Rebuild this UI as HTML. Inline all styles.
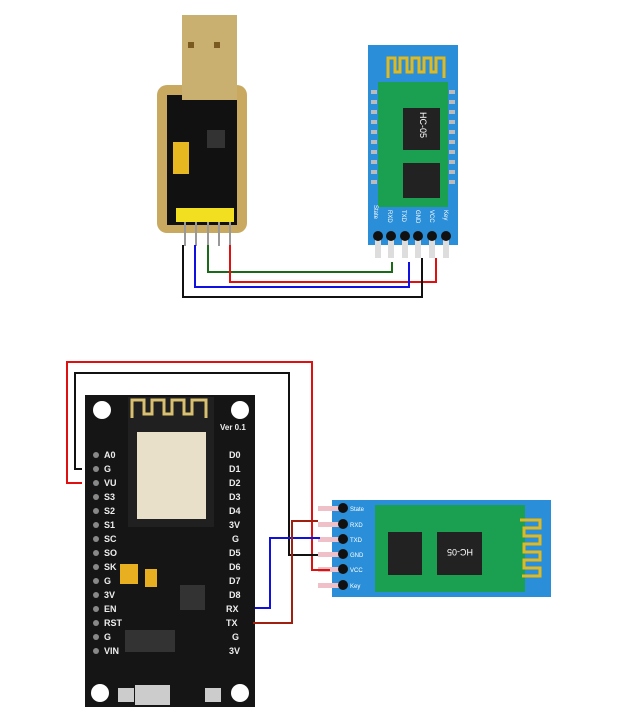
<!DOCTYPE html><html><head><style>body{margin:0;background:#fff}svg{display:block}</style></head><body>
<svg width="620" height="720" xmlns="http://www.w3.org/2000/svg" font-family="Liberation Sans, sans-serif">
<rect width="620" height="720" fill="#fff"/>
<!-- USB adapter -->
<rect x="157" y="85" width="90" height="148" rx="10" fill="#c9a860"/>
<rect x="167" y="95" width="70" height="130" fill="#111"/>
<rect x="182" y="15" width="55" height="85" fill="#c9b070"/>
<rect x="188" y="42" width="6" height="6" fill="#7a5a20"/><rect x="214" y="42" width="6" height="6" fill="#7a5a20"/>
<rect x="173" y="142" width="16" height="32" fill="#e8b820"/>
<rect x="207" y="130" width="18" height="18" fill="#333"/>
<rect x="176" y="208" width="58" height="14" fill="#f2e020"/>
<g stroke="#999" stroke-width="2"><line x1="185" y1="222" x2="185" y2="246"/><line x1="196" y1="222" x2="196" y2="246"/><line x1="208" y1="222" x2="208" y2="246"/><line x1="219" y1="222" x2="219" y2="246"/><line x1="230" y1="222" x2="230" y2="246"/></g>
<!-- HC05 top -->
<rect x="368" y="45" width="90" height="200" fill="#2a8fd8"/>
<rect x="378" y="82" width="70" height="125" fill="#1aa050"/>
<path d="M388 78 V58 H395 V72 H400 V58 H407 V72 H412 V58 H419 V72 H424 V58 H431 V72 H436 V58 H444 V78" fill="none" stroke="#e0b820" stroke-width="3"/>
<rect x="403" y="108" width="37" height="42" fill="#222"/><rect x="403" y="163" width="37" height="35" fill="#222"/>
<text x="0" y="0" font-size="9" fill="#fff" transform="translate(420,112) rotate(90)">HC-05</text>
<g fill="#bbb"><rect x="371" y="90" width="6" height="4"/><rect x="371" y="100" width="6" height="4"/><rect x="371" y="110" width="6" height="4"/><rect x="371" y="120" width="6" height="4"/><rect x="371" y="130" width="6" height="4"/><rect x="371" y="140" width="6" height="4"/><rect x="371" y="150" width="6" height="4"/><rect x="371" y="160" width="6" height="4"/><rect x="371" y="170" width="6" height="4"/><rect x="371" y="180" width="6" height="4"/><rect x="449" y="90" width="6" height="4"/><rect x="449" y="100" width="6" height="4"/><rect x="449" y="110" width="6" height="4"/><rect x="449" y="120" width="6" height="4"/><rect x="449" y="130" width="6" height="4"/><rect x="449" y="140" width="6" height="4"/><rect x="449" y="150" width="6" height="4"/><rect x="449" y="160" width="6" height="4"/><rect x="449" y="170" width="6" height="4"/><rect x="449" y="180" width="6" height="4"/></g>
<g font-size="6" fill="#fff"><text transform="translate(374,205) rotate(90)">State</text><text transform="translate(388,210) rotate(90)">RXD</text><text transform="translate(402,210) rotate(90)">TXD</text><text transform="translate(416,210) rotate(90)">GND</text><text transform="translate(430,210) rotate(90)">VCC</text><text transform="translate(444,210) rotate(90)">Key</text></g>
<g fill="#ddd"><rect x="375" y="234" width="6" height="24"/><rect x="388" y="234" width="6" height="24"/><rect x="402" y="234" width="6" height="24"/><rect x="415" y="234" width="6" height="24"/><rect x="429" y="234" width="6" height="24"/><rect x="443" y="234" width="6" height="24"/></g>
<g fill="#111"><circle cx="378" cy="236" r="5"/><circle cx="391" cy="236" r="5"/><circle cx="405" cy="236" r="5"/><circle cx="418" cy="236" r="5"/><circle cx="432" cy="236" r="5"/><circle cx="446" cy="236" r="5"/></g>
<g fill="none" stroke-width="2">
<path d="M208 245 V272 H392 V262" stroke="#1a6a1a"/>
<path d="M230 245 V282 H436 V258" stroke="#e01010"/>
<path d="M195 245 V287 H409 V262" stroke="#1010e0"/>
<path d="M183 245 V297 H422 V258" stroke="#111"/>
</g>
<!-- NodeMCU -->
<rect x="85" y="395" width="170" height="312" fill="#151515"/>
<circle cx="102" cy="410" r="9" fill="#fff"/><circle cx="240" cy="410" r="9" fill="#fff"/><circle cx="100" cy="693" r="9" fill="#fff"/><circle cx="240" cy="693" r="9" fill="#fff"/>
<rect x="128" y="397" width="86" height="130" fill="#202020"/>
<path d="M132 418 V400 H144 V414 H152 V400 H164 V414 H172 V400 H184 V414 H192 V400 H206 V418" fill="none" stroke="#d8c070" stroke-width="3"/>
<rect x="137" y="432" width="69" height="87" fill="#e8e0c8"/>
<rect x="120" y="564" width="18" height="20" fill="#e8b020"/><rect x="145" y="569" width="12" height="18" fill="#e8b020"/>
<rect x="125" y="630" width="50" height="22" fill="#333"/><rect x="180" y="585" width="25" height="25" fill="#333"/>
<rect x="135" y="685" width="35" height="20" fill="#ccc"/><rect x="118" y="688" width="16" height="14" fill="#ccc"/><rect x="205" y="688" width="16" height="14" fill="#ccc"/>
<g font-size="9" font-weight="bold" fill="#eee">
<text x="104" y="458">A0</text><text x="104" y="472">G</text><text x="104" y="486">VU</text><text x="104" y="500">S3</text><text x="104" y="514">S2</text><text x="104" y="528">S1</text><text x="104" y="542">SC</text><text x="104" y="556">SO</text><text x="104" y="570">SK</text><text x="104" y="584">G</text><text x="104" y="598">3V</text><text x="104" y="612">EN</text><text x="104" y="626">RST</text><text x="104" y="640">G</text><text x="104" y="654">VIN</text>
<text x="229" y="458">D0</text><text x="229" y="472">D1</text><text x="229" y="486">D2</text><text x="229" y="500">D3</text><text x="229" y="514">D4</text><text x="229" y="528">3V</text><text x="232" y="542">G</text><text x="229" y="556">D5</text><text x="229" y="570">D6</text><text x="229" y="584">D7</text><text x="229" y="598">D8</text><text x="226" y="612">RX</text><text x="226" y="626">TX</text><text x="232" y="640">G</text><text x="229" y="654">3V</text>
<text x="220" y="430" font-size="8">Ver 0.1</text></g>
<g fill="#888"><circle cx="96" cy="455" r="3"/><circle cx="96" cy="469" r="3"/><circle cx="96" cy="483" r="3"/><circle cx="96" cy="497" r="3"/><circle cx="96" cy="511" r="3"/><circle cx="96" cy="525" r="3"/><circle cx="96" cy="539" r="3"/><circle cx="96" cy="553" r="3"/><circle cx="96" cy="567" r="3"/><circle cx="96" cy="581" r="3"/><circle cx="96" cy="595" r="3"/><circle cx="96" cy="609" r="3"/><circle cx="96" cy="623" r="3"/><circle cx="96" cy="637" r="3"/><circle cx="96" cy="651" r="3"/></g>
<!-- HC05 bottom -->
<rect x="332" y="500" width="219" height="97" fill="#2a8fd8"/>
<rect x="375" y="505" width="150" height="87" fill="#1aa050"/>
<rect x="388" y="532" width="34" height="43" fill="#222"/><rect x="437" y="532" width="45" height="43" fill="#222"/>
<text x="460" y="555" font-size="9" fill="#fff" text-anchor="middle" transform="rotate(180,460,552)">HC-05</text>
<path d="M520 520 H540 V528 H524 V536 H540 V544 H524 V552 H540 V560 H524 V568 H540 V576 H522" fill="none" stroke="#e0b820" stroke-width="3"/>
<g font-size="6" fill="#fff"><text x="350" y="511">State</text><text x="350" y="527">RXD</text><text x="350" y="542">TXD</text><text x="350" y="557">GND</text><text x="350" y="572">VCC</text><text x="350" y="588">Key</text></g>
<g fill="#f0c0c8"><rect x="318" y="506" width="24" height="5"/><rect x="318" y="522" width="24" height="5"/><rect x="318" y="537" width="24" height="5"/><rect x="318" y="552" width="24" height="5"/><rect x="318" y="567" width="24" height="5"/><rect x="318" y="583" width="24" height="5"/></g>
<g fill="#111"><circle cx="343" cy="508" r="5"/><circle cx="343" cy="524" r="5"/><circle cx="343" cy="539" r="5"/><circle cx="343" cy="554" r="5"/><circle cx="343" cy="569" r="5"/><circle cx="343" cy="585" r="5"/></g>
<g fill="none" stroke-width="2">
<path d="M82 483 H67 V362 H312 V570 H330" stroke="#e01010"/>
<path d="M82 469 H75 V373 H289 V555 H318" stroke="#111"/>
<path d="M255 608 H270 V538 H320" stroke="#1010e0"/>
<path d="M253 623 H292 V521 H318" stroke="#a02010"/>
</g>
</svg></body></html>
